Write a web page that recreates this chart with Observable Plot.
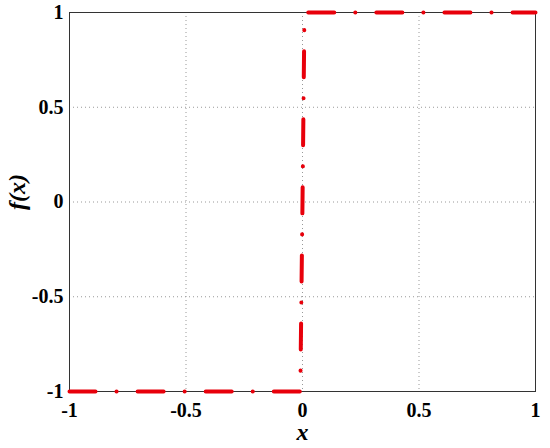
<!DOCTYPE html>
<html>
<head>
<meta charset="utf-8">
<script src="https://cdn.jsdelivr.net/npm/d3@7"></script>
<script src="https://cdn.jsdelivr.net/npm/@observablehq/plot@0.6"></script>
<style>
  html, body { margin: 0; padding: 0; background: #fff; overflow: hidden; }
  #chart { width: 550px; height: 448px; }
  #chart svg { display: block; max-width: none !important; }
  #chart svg text { font-family: "Liberation Serif", "Times New Roman", Times, serif !important; font-weight: bold; }
</style>
</head>
<body>
<div id="chart"></div>
<script>
// Curve samples (steep step at x ≈ 0)
const curveX = [-1, -0.5, -0.011, -0.009, 0, 0.008, 0.010, 0.5, 1];
const curveY = [-1, -1, -1, -0.95, 0, 0.95, 1, 1, 1];
const xTicks = [-1, -0.5, 0, 0.5, 1];
const yTicks = [-1, -0.5, 0, 0.5, 1];
const xLabel = "x";
const yLabel = "f(x)";

const data = curveX.map((x, i) => ({x, y: curveY[i]}));
const fmt = d => String(d);
const serif = "Liberation Serif";

const chart = Plot.plot({
  width: 550,
  height: 448,
  marginLeft: 69,
  marginRight: 15,
  marginTop: 12,
  marginBottom: 57,
  style: "font-family: 'Liberation Serif', serif; font-weight: bold; font-size: 20px; color: #000; background: #fff;",
  x: {domain: [-1, 1]},
  y: {domain: [-1, 1]},
  marks: [
    Plot.gridX(xTicks, {stroke: "#999", strokeOpacity: 1, strokeDasharray: "1,3", strokeWidth: 1}),
    Plot.gridY(yTicks, {stroke: "#999", strokeOpacity: 1, strokeDasharray: "1,3", strokeWidth: 1}),
    Plot.axisX(xTicks, {tickSize: 0, tickPadding: 11, tickFormat: fmt, label: null, fontSize: 20, fontWeight: "bold", fontFamily: serif}),
    Plot.axisY(yTicks, {tickSize: 0, tickPadding: 6, tickFormat: fmt, label: null, fontSize: 20, fontWeight: "bold", fontFamily: serif}),
    Plot.frame({stroke: "#333", strokeWidth: 1}),
    Plot.line(data, {x: "x", y: "y", stroke: "#e8000b", strokeWidth: 4, strokeDasharray: "26,21,0.1,21", strokeLinecap: "round", strokeLinejoin: "round"}),
    Plot.text([xLabel], {frameAnchor: "bottom", dy: 31, lineAnchor: "top", fontStyle: "italic", fontWeight: "bold", fontSize: 24, fontFamily: serif}),
    Plot.text([yLabel], {frameAnchor: "left", dx: -52, dy: 8, rotate: -90, fontStyle: "italic", fontWeight: "bold", fontSize: 24, fontFamily: serif})
  ]
});
document.getElementById("chart").appendChild(chart);
</script>
</body>
</html>
